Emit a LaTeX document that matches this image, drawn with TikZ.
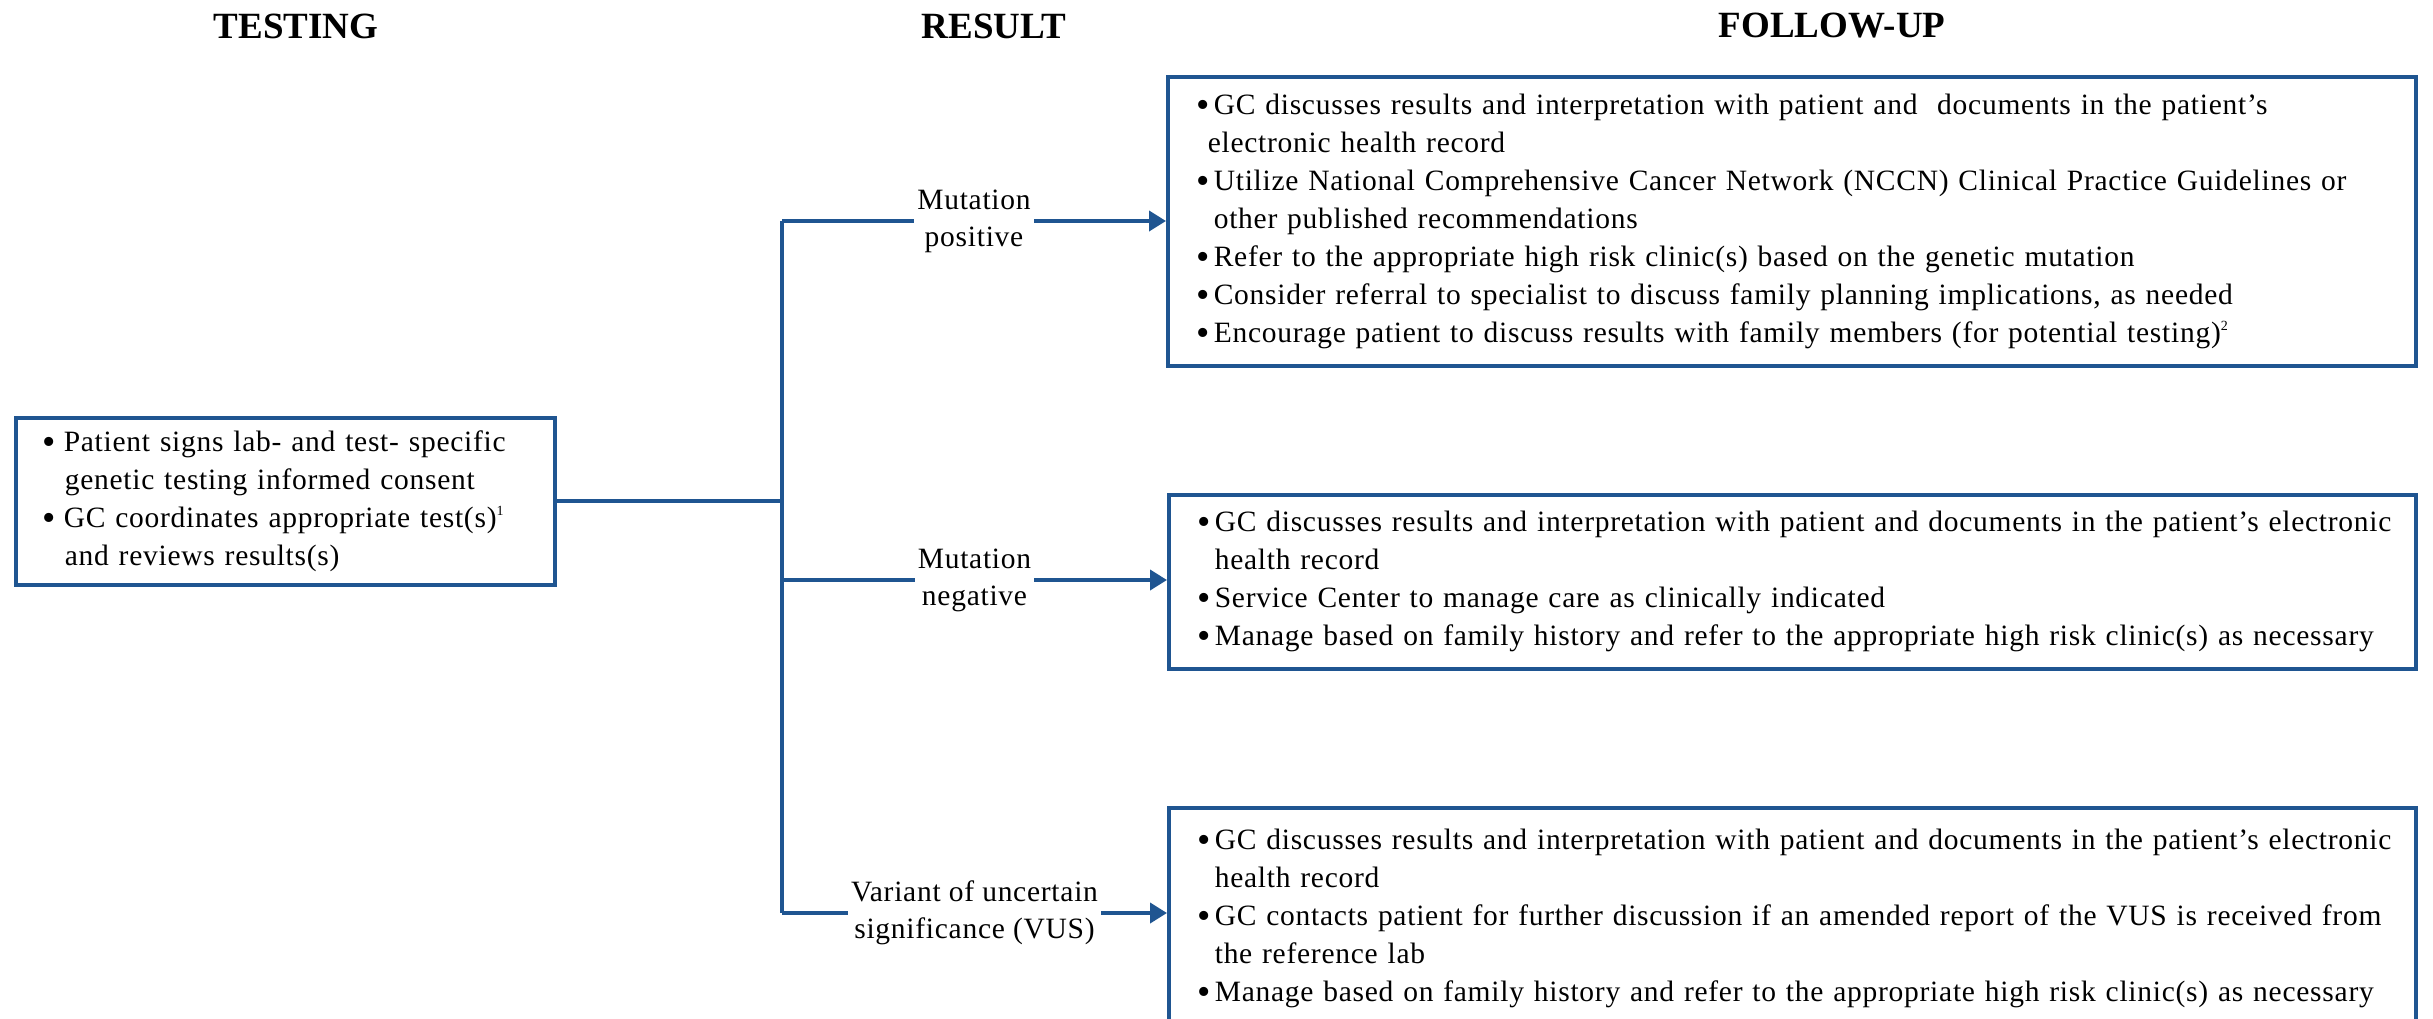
\documentclass[tikz,border=0pt]{standalone}
\usepackage{fontspec}
\setmainfont{Liberation Serif}
\newfontfamily\wide[LetterSpace=2.5]{Liberation Serif}
\usetikzlibrary{arrows.meta}
\definecolor{bcol}{RGB}{31,85,145}
\newcommand\bdot{\raisebox{-3pt}{\fontsize{38}{38}\selectfont •}}
\newcommand\bul{\makebox[17pt][l]{\bdot}}
\newcommand\bulL{\makebox[21pt][l]{\bdot}}
\newcommand\ind{\hspace*{17pt}}
\newcommand\indL{\hspace*{22pt}}
\newcommand\sups[1]{\raisebox{12pt}{\fontsize{14}{14}\selectfont #1}}
\tikzset{
  box/.style={draw=bcol, line width=3.6pt, align=left, anchor=north west,
    font=\wide\fontsize{29.5}{38}\selectfont, inner ysep=0pt},
  hdr/.style={font=\fontsize{37}{40}\selectfont\bfseries},
  lbl/.style={fill=white, align=center, font=\wide\fontsize{29.5}{37}\selectfont, inner xsep=3pt, inner ysep=0pt},
  conn/.style={draw=bcol, line width=3.8pt},
  arr/.style={conn, -{Triangle[length=17pt,width=20pt]}}
}
\begin{document}
\begin{tikzpicture}[x=1pt,y=-1pt]
\useasboundingbox[fill=white] (0,0) rectangle (2433,1018);

\node[hdr] (hT) at (296,26) {TESTING};
\node[hdr] (hR) at (994,26) {RESULT};
\node[hdr] (hF) at (1832,26) {FOLLOW-UP};

\node[box, inner xsep=27pt, text width=485pt, minimum height=167pt] (left) at (14,416)
 {\bulL Patient signs lab- and test- specific\\
  \indL genetic testing informed consent\\
  \bulL GC coordinates appropriate test(s)\sups{1}\\
  \indL and reviews results(s)};

\node[box, inner xsep=29pt, text width=1190pt, minimum height=289pt] (b1) at (1166,75)
 {\bul GC discusses results and interpretation with patient and\ \ documents in the patient’s\\
  \hspace*{11pt}electronic health record\\
  \bul Utilize National Comprehensive Cancer Network (NCCN) Clinical Practice Guidelines or\\
  \ind other published recommendations\\
  \bul Refer to the appropriate high risk clinic(s) based on the genetic mutation\\
  \bul Consider referral to specialist to discuss family planning implications, as needed\\
  \bul Encourage patient to discuss results with family members (for potential testing)\sups{2}};

\node[box, inner xsep=29pt, text width=1189pt, minimum height=174pt] (b2) at (1167,493)
 {\mbox{\bul GC discusses results and interpretation with patient and documents in the patient’s electronic}\\
  \ind health record\\
  \bul Service Center to manage care as clinically indicated\\
  \mbox{\bul Manage based on family history and refer to the appropriate high risk clinic(s) as necessary}};

\node[box, inner xsep=29pt, text width=1189pt, minimum height=221pt] (b3) at (1167,806)
 {\mbox{\bul GC discusses results and interpretation with patient and documents in the patient’s electronic}\\
  \ind health record\\
  \mbox{\bul GC contacts patient for further discussion if an amended report of the VUS is received from}\\
  \ind the reference lab\\
  \mbox{\bul Manage based on family history and refer to the appropriate high risk clinic(s) as necessary}};

\coordinate (jtop) at (782,221);
\coordinate (jneg) at (782,580);
\coordinate (jbot) at (782,913);

\draw[conn] (jtop) -- (jbot);
\draw[conn] (left.east) -- (left.east -| jtop);
\draw[arr] (jtop) -- node[lbl] (l1) {Mutation\\positive} (jtop -| b1.west);
\draw[arr] (jneg) -- node[lbl] (l2) {Mutation\\negative} (jneg -| b2.west);
\draw[arr] (jbot) -- node[lbl] (l3) {Variant of uncertain\\significance (VUS)} (jbot -| b3.west);
\end{tikzpicture}
\end{document}
